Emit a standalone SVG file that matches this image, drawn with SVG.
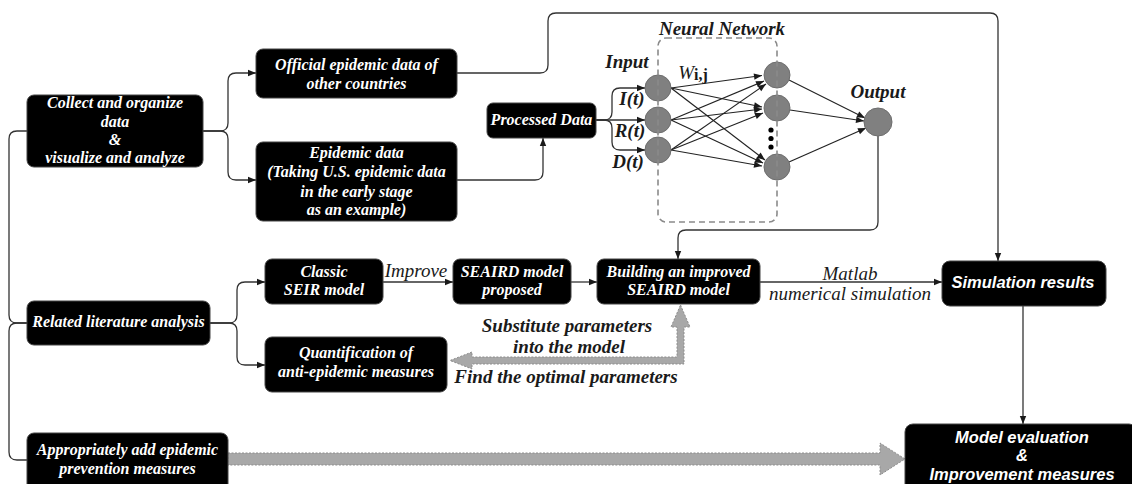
<svg xmlns="http://www.w3.org/2000/svg" width="1132" height="484" viewBox="0 0 1132 484">
  <style>
    .box { fill: #000; stroke: #444; stroke-width: 1; }
    .serif { font-family: 'Liberation Serif', 'DejaVu Serif', 'Noto Serif', serif; }
    .bt { fill: #fff; font-weight: bold; font-style: italic; font-size: 16px; text-anchor: middle; }
    .st { fill: #fff; font-family: 'Liberation Sans', Arial, sans-serif; font-weight: bold; font-style: italic; font-size: 16.5px; text-anchor: middle; }
    .lbl { fill: #1a1a1a; font-style: italic; font-size: 19px; text-anchor: middle; }
    .lblb { fill: #1a1a1a; font-style: italic; font-weight: bold; font-size: 19px; text-anchor: middle; }
    .ln { fill: none; stroke: #333; stroke-width: 1.3; }
    .nn { fill: none; stroke: #222; stroke-width: 1.2; }
    .neuron { fill: #808080; stroke: #6e6e6e; stroke-width: 1; }
    .dash { fill: none; stroke: #8a8a8a; stroke-width: 1.6; stroke-dasharray: 6 4; }
    .fat { fill: #a8a8a8; stroke: #8c8c8c; stroke-width: 1; stroke-dasharray: 2 1.5; }
  </style>
  <defs>
    <marker id="arr" viewBox="0 0 10 10" refX="10" refY="5" markerWidth="9" markerHeight="8" markerUnits="userSpaceOnUse" orient="auto">
      <path d="M0,1 L10,5 L0,9 z" fill="#1a1a1a"/>
    </marker>
  </defs>
  <rect width="1132" height="484" fill="#fff"/>

  <!-- connectors -->
  <g id="connectors">
    <!-- left rail from the collection step -->
    <path class="ln" d="M27,131 H17 Q9,131 9,139 V315 Q9,323 17,323 H27"/>
    <path class="ln" d="M27,323 H17 Q9,323 9,331 V452 Q9,460 17,460 H27"/>
    <!-- collection branches -->
    <path class="ln" d="M203,131 H220 Q228,131 228,123 V81 Q228,73 236,73 H256" marker-end="url(#arr)"/>
    <path class="ln" d="M203,131 H220 Q228,131 228,139 V172 Q228,180 236,180 H256" marker-end="url(#arr)"/>
    <!-- official data straight to simulation -->
    <path class="ln" d="M457,73 H540 Q548,73 548,65 V21 Q548,13 556,13 H990 Q998,13 998,21 V261" marker-end="url(#arr)"/>
    <!-- epidemic data to processed data -->
    <path class="ln" d="M457,180 H535 Q543,180 543,172 V138" marker-end="url(#arr)"/>
    <!-- processed data into input layer -->
    <path class="ln" d="M596,120 H604 Q612,120 612,112 V96 Q612,88 620,88 H645" marker-end="url(#arr)"/>
    <path class="ln" d="M596,120 H645" marker-end="url(#arr)"/>
    <path class="ln" d="M596,120 H604 Q612,120 612,128 V142 Q612,150 620,150 H645" marker-end="url(#arr)"/>
    <!-- network output to model building -->
    <path class="ln" d="M878,136 V222 Q878,230 870,230 H686 Q678,230 678,238 V259" marker-end="url(#arr)"/>
    <!-- literature branches -->
    <path class="ln" d="M210,323 H229 Q237,323 237,315 V290 Q237,282 245,282 H265" marker-end="url(#arr)"/>
    <path class="ln" d="M210,323 H229 Q237,323 237,331 V357 Q237,365 245,365 H265" marker-end="url(#arr)"/>
    <!-- model chain -->
    <path class="ln" d="M383,282 H453" marker-end="url(#arr)"/>
    <path class="ln" d="M571,282 H597" marker-end="url(#arr)"/>
    <path class="ln" d="M760,282 H942" marker-end="url(#arr)"/>
    <path class="ln" d="M1023,306 V424" marker-end="url(#arr)"/>
    <!-- parameter exchange (double headed) -->
    <path class="fat" d="M680.5,305 L690,327 L684,327 L684,364 L472,364 L472,369 L450,360.5 L472,352 L472,357 L677,357 L677,327 L671,327 Z"/>
    <!-- prevention measures to evaluation -->
    <path class="fat" d="M228,453 H880 V443 L905,459 L880,475 V465 H228 Z"/>
  </g>

  <!-- connector labels -->
  <g id="labels" class="serif">
    <text class="lbl" x="416" y="277">Improve</text>
    <text class="lbl" x="850" y="280">Matlab</text>
    <text class="lbl" x="850" y="300">numerical simulation</text>
    <text class="lblb" x="567" y="332">Substitute parameters</text>
    <text class="lblb" x="569" y="353">into the model</text>
    <text class="lblb" x="566" y="383">Find the optimal parameters</text>
  </g>

  <!-- neural network -->
  <g id="neural-network" class="serif">
    <g class="nn">
      <line x1="671" y1="88" x2="762" y2="75.5" marker-end="url(#arr)"/>
      <line x1="671" y1="88" x2="762" y2="107" marker-end="url(#arr)"/>
      <line x1="671" y1="88" x2="765" y2="160" marker-end="url(#arr)"/>
      <line x1="671" y1="120" x2="764" y2="81" marker-end="url(#arr)"/>
      <line x1="671" y1="120" x2="762" y2="109" marker-end="url(#arr)"/>
      <line x1="671" y1="120" x2="763" y2="163" marker-end="url(#arr)"/>
      <line x1="671" y1="150" x2="766" y2="84" marker-end="url(#arr)"/>
      <line x1="671" y1="150" x2="763" y2="113" marker-end="url(#arr)"/>
      <line x1="671" y1="150" x2="762" y2="166" marker-end="url(#arr)"/>
      <line x1="789" y1="80" x2="865" y2="118" marker-end="url(#arr)"/>
      <line x1="790" y1="110" x2="864" y2="121" marker-end="url(#arr)"/>
      <line x1="789" y1="162" x2="866" y2="128" marker-end="url(#arr)"/>
    </g>
    <circle class="neuron" cx="658" cy="88" r="13"/>
    <circle class="neuron" cx="658" cy="120" r="13"/>
    <circle class="neuron" cx="658" cy="150" r="13"/>
    <circle class="neuron" cx="777" cy="75" r="13"/>
    <circle class="neuron" cx="777" cy="108" r="13"/>
    <circle class="neuron" cx="777" cy="167" r="13"/>
    <circle class="neuron" cx="878" cy="122" r="14"/>
    <circle cx="771" cy="130" r="2.6" fill="#000"/>
    <circle cx="771" cy="138.5" r="2.6" fill="#000"/>
    <circle cx="771" cy="147" r="2.6" fill="#000"/>
    <rect class="dash" x="658" y="38" width="119" height="184" rx="8"/>
    <text class="lblb" x="722" y="35">Neural Network</text>
    <text class="lblb" x="627" y="68">Input</text>
    <text class="lblb" x="878" y="98" font-size="18">Output</text>
    <text class="lbl" x="693" y="79" text-anchor="start" font-size="21">W<tspan font-style="normal" font-weight="bold" font-size="16" dy="1">i,j</tspan></text>
    <text class="lblb" x="632" y="105" font-size="18">I(t)</text>
    <text class="lblb" x="630" y="137" font-size="18">R(t)</text>
    <text class="lblb" x="628" y="168" font-size="18">D(t)</text>
  </g>

  <!-- nodes -->
  <g id="collect" class="serif">
    <rect class="box" x="27" y="95" width="176" height="72" rx="7"/>
    <text class="bt" x="115" y="108">Collect and organize</text>
    <text class="bt" x="115" y="127">data</text>
    <text class="bt" x="115" y="145">&amp;</text>
    <text class="bt" x="115" y="163">visualize and analyze</text>
  </g>
  <g id="official" class="serif">
    <rect class="box" x="256" y="49" width="201" height="49" rx="7"/>
    <text class="bt" x="356.5" y="70">Official epidemic data of</text>
    <text class="bt" x="356.5" y="89">other countries</text>
  </g>
  <g id="epidemic" class="serif">
    <rect class="box" x="256" y="142" width="201" height="79" rx="7"/>
    <text class="bt" x="356.5" y="158">Epidemic data</text>
    <text class="bt" x="356.5" y="177">(Taking U.S. epidemic data</text>
    <text class="bt" x="356.5" y="197">in the early stage</text>
    <text class="bt" x="356.5" y="215">as an example)</text>
  </g>
  <g id="processed" class="serif">
    <rect class="box" x="487" y="103" width="109" height="35" rx="6"/>
    <text class="bt" x="541.5" y="125">Processed Data</text>
  </g>
  <g id="related" class="serif">
    <rect class="box" x="27" y="301" width="183" height="44" rx="7"/>
    <text class="bt" x="118.5" y="327">Related literature analysis</text>
  </g>
  <g id="classic" class="serif">
    <rect class="box" x="265" y="259" width="118" height="45" rx="7"/>
    <text class="bt" x="324" y="277">Classic</text>
    <text class="bt" x="324" y="295">SEIR model</text>
  </g>
  <g id="quantification" class="serif">
    <rect class="box" x="265" y="337" width="182" height="55" rx="7"/>
    <text class="bt" x="356" y="358">Quantification of</text>
    <text class="bt" x="356" y="377">anti-epidemic measures</text>
  </g>
  <g id="seaird" class="serif">
    <rect class="box" x="453" y="259" width="118" height="45" rx="7"/>
    <text class="bt" x="512" y="277">SEAIRD model</text>
    <text class="bt" x="512" y="295">proposed</text>
  </g>
  <g id="building" class="serif">
    <rect class="box" x="597" y="259" width="163" height="45" rx="7"/>
    <text class="bt" x="678.5" y="277">Building an improved</text>
    <text class="bt" x="678.5" y="295">SEAIRD model</text>
  </g>
  <g id="simulation">
    <rect class="box" x="942" y="261" width="164" height="45" rx="8"/>
    <text class="st" x="1023" y="288">Simulation results</text>
  </g>
  <g id="appropriately" class="serif">
    <rect class="box" x="27" y="433" width="201" height="60" rx="7"/>
    <text class="bt" x="127.5" y="455">Appropriately add epidemic</text>
    <text class="bt" x="127.5" y="474">prevention measures</text>
  </g>
  <g id="evaluation">
    <rect class="box" x="905" y="424" width="232" height="70" rx="8"/>
    <text class="st" x="1022" y="443">Model evaluation</text>
    <text class="st" x="1022" y="461">&amp;</text>
    <text class="st" x="1022" y="480">Improvement measures</text>
  </g>
</svg>
